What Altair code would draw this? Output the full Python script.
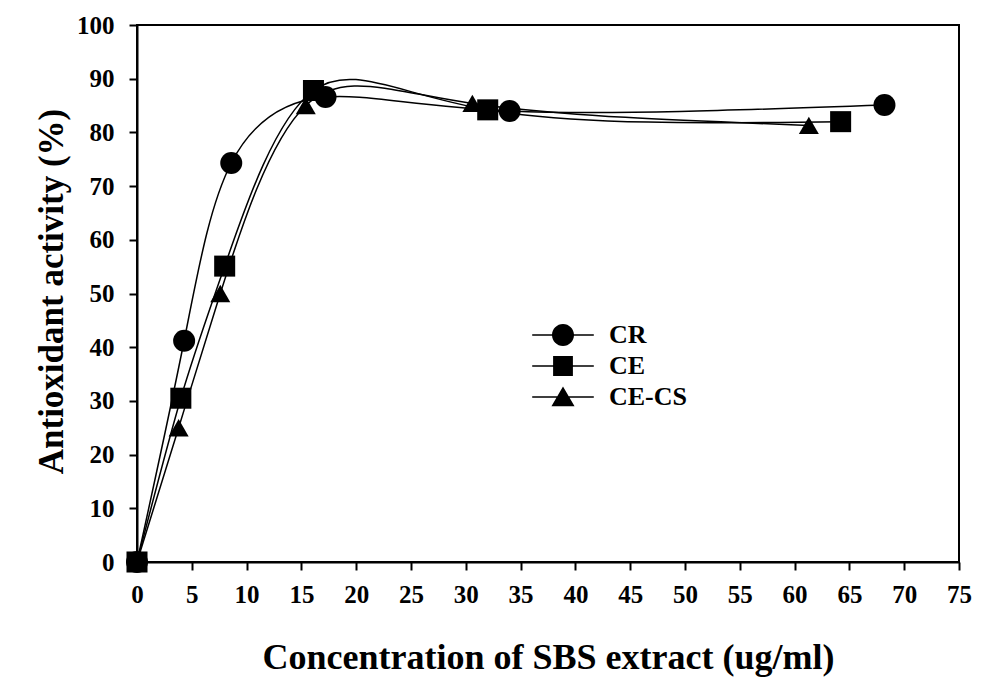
import altair as alt
import pandas as pd

series_names = ["CR", "CE", "CE-CS"]
cr_x = [0, 4.3, 8.6, 17.2, 34.0, 68.2]
cr_y = [0, 41.2, 74.3, 86.6, 84.0, 85.1]
ce_x = [0, 4.0, 8.0, 16.1, 32.0, 64.2]
ce_y = [0, 30.5, 55.1, 87.8, 84.2, 82.0]
cecs_x = [0, 3.8, 7.6, 15.4, 30.6, 61.3]
cecs_y = [0, 25.0, 50.0, 85.0, 85.4, 81.3]
x_ticks = list(range(0, 80, 5))
y_ticks = list(range(0, 110, 10))

rows = []
for name, xs, ys in zip(series_names, [cr_x, ce_x, cecs_x], [cr_y, ce_y, cecs_y]):
    for i, (xv, yv) in enumerate(zip(xs, ys)):
        rows.append({"series": name, "x": xv, "y": yv, "order": i})
df = pd.DataFrame(rows)
df["legend_series"] = df["series"]

FONT = "Liberation Serif"

x_enc = alt.X(
    "x:Q",
    scale=alt.Scale(domain=[0, 75], nice=False, zero=False),
    axis=alt.Axis(
        values=x_ticks,
        title="Concentration of SBS extract (ug/ml)",
        titleY=106,
        titleBaseline="alphabetic",
        titleFontSize=36,
        labelPadding=12,
    ),
)
y_enc = alt.Y(
    "y:Q",
    scale=alt.Scale(domain=[0, 100], nice=False, zero=False),
    axis=alt.Axis(
        values=y_ticks,
        title="Antioxidant activity (%)",
        titleAngle=270,
        titleX=-75,
        titleY=266,
        titleAlign="center",
        titleBaseline="alphabetic",
        titleFontSize=35,
        labelPadding=15,
    ),
)

lines = alt.Chart(df).mark_line(
    interpolate="natural", color="black", strokeWidth=1.5
).encode(x=x_enc, y=y_enc, detail="series:N", order="order:Q")

points = alt.Chart(df).mark_point(filled=True, color="black", opacity=1).encode(
    x=x_enc,
    y=y_enc,
    shape=alt.Shape(
        "series:N",
        scale=alt.Scale(domain=series_names, range=["circle", "square", "triangle-up"]),
        legend=None,
    ),
    size=alt.Size(
        "series:N",
        scale=alt.Scale(domain=series_names, range=[484, 400, 529]),
        legend=None,
    ),
)

stub = "M-2.8,-0.07L2.8,-0.07L2.8,0.07L-2.8,0.07Z"
legend_paths = [
    stub + "M-1,0A1,1 0 1,1 1,0A1,1 0 1,1 -1,0Z",
    stub + "M-0.9,-0.9L0.9,-0.9L0.9,0.9L-0.9,0.9Z",
    stub + "M0,-0.95L1.05,0.85L-1.05,0.85Z",
]

legend_layer = alt.Chart(df).mark_point(
    filled=True, color="black", size=484, opacity=1
).encode(
    shape=alt.Shape(
        "legend_series:N",
        scale=alt.Scale(domain=series_names, range=legend_paths),
        legend=alt.Legend(
            title=None,
            orient="none",
            legendX=413,
            legendY=297,
            labelFont=FONT,
            labelFontSize=26,
            labelFontWeight="bold",
            labelColor="black",
            labelOffset=33,
            rowPadding=5,
            padding=0,
            symbolSize=484,
            symbolOpacity=1,
            symbolFillColor="black",
            symbolStrokeColor="black",
            symbolStrokeWidth=0,
        ),
    )
).transform_filter("datum.x < -100")

chart = (
    alt.layer(lines, points, legend_layer)
    .resolve_scale(shape="independent", size="independent")
    .resolve_legend(shape="independent")
    .properties(
        width=822,
        height=537,
        autosize=alt.AutoSizeParams(type="none"),
        padding={"left": 137, "top": 25, "right": 30, "bottom": 119},
        background="white",
    )
    .configure_view(stroke="black", strokeWidth=2)
    .configure_axis(
        grid=False,
        domainColor="black",
        domainWidth=2,
        tickColor="black",
        tickWidth=2,
        tickSize=8,
        labelFont=FONT,
        labelFontSize=25,
        labelFontWeight="bold",
        labelColor="black",
        labelFlush=False,
        labelOverlap=False,
        titleFont=FONT,
        titleFontWeight="bold",
        titleColor="black",
    )
)

chart.save("out.html", embed_options={"renderer": "svg", "actions": False})
